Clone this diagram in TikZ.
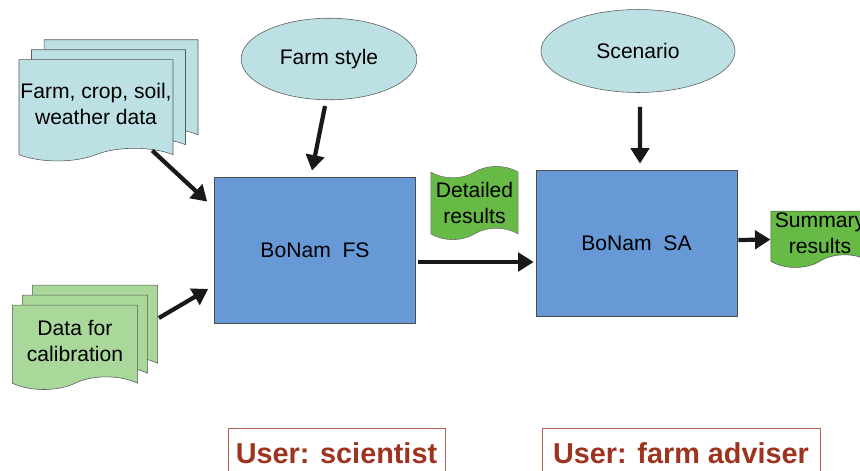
\documentclass[tikz,border=0pt]{standalone}
\usepackage{fontspec}
\setmainfont{Liberation Sans}
\usetikzlibrary{shapes.geometric, shapes.symbols, shadows, arrows.meta, calc}
\definecolor{docblue}{RGB}{189,224,228}
\definecolor{docgreen}{RGB}{170,216,155}
\definecolor{boxblue}{RGB}{102,153,214}
\definecolor{flaggreen}{RGB}{104,186,70}
\definecolor{userred}{RGB}{158,52,32}
\definecolor{userline}{RGB}{178,98,84}

\begin{document}
\begin{tikzpicture}[
  x=0.025cm, y=-0.025cm,
  font=\fontsize{15}{18.5}\selectfont,
  doc/.style={tape, tape bend top=none, tape bend bottom=in and out, tape bend height=9pt,
              draw=black!65, fill=#1, inner sep=0pt, align=center},
  pages/.style n args={3}{
    general shadow={shadow xshift=#3, shadow yshift=14.2pt, draw=black!65, fill=#1},
    general shadow={shadow xshift=#2, shadow yshift=7.1pt, draw=black!65, fill=#1}},
  flag/.style={tape, tape bend height=8pt, draw=black!55, fill=flaggreen,
               inner sep=0pt, align=center},
  oval/.style={ellipse, draw=black!65, fill=docblue, inner sep=0pt},
  model/.style={rectangle, draw=black!70, fill=boxblue,
                minimum width=143pt, minimum height=104pt},
  user/.style={rectangle, draw=userline, text=userred, minimum height=35.5pt,
               font=\fontsize{20.5}{24}\selectfont\bfseries},
  arr/.style={-{Triangle[width=13pt,length=11pt]}, line width=3pt, black!90}
]
\useasboundingbox (0,0) rectangle (860,470);

% input data
\node[doc=docblue, pages={docblue}{8.9pt}{17.8pt}, minimum width=109.5pt, minimum height=72pt]
  (farmdata) at (96,104) {Farm, crop, soil,\\weather data};
\node[doc=docgreen, pages={docgreen}{7.1pt}{14.2pt}, minimum width=89pt, minimum height=60pt]
  (calib) at (75,341) {Data for\\calibration};
\node[oval, minimum width=125pt, minimum height=58pt] (farmstyle) at (329,59) {Farm style};
\node[oval, minimum width=138pt, minimum height=59pt] (scenario) at (638,51) {Scenario};

% models
\node[model] (fs) at (315,250) {BoNam\ \ FS};
\node[model] (sa) at (636.5,243) {BoNam\ \ SA};

% results
\node[flag, tape bend top=in and out, tape bend bottom=in and out,
      minimum width=62pt, minimum height=52pt] (detailed) at (474.5,203) {Detailed\\results};
\node[doc=flaggreen, minimum width=70pt, minimum height=40pt] (summary) at (820,233) {Summary\\results};

% users
\node[user, minimum width=154pt] (scientist) at (336.5,453) {User: scientist};
\node[user, minimum width=198pt] (adviser) at (681,453) {User: farm adviser};

\draw[arr] ($(farmdata.south east)+(-21,2)$) -- ($(fs.north west)+(-7,25)$);
\draw[arr] ($(calib.east)+(21,-23)$) -- ($(fs.west)+(-6,39)$);
\draw[arr] ($(farmstyle.south)+(-4,6)$) -- ($(fs.north)+(-3,-6)$);
\draw[arr] ($(scenario.south)+(2,14)$) -- ($(sa.north)+(3.5,-6)$);
\draw[arr] ($(fs.east)+(2,12)$) -- ($(sa.west)+(-2,19)$);
\draw[arr] ($(sa.east)+(1,-3)$) -- ($(summary.west)+(0,6.5)$);
\end{tikzpicture}
\end{document}
